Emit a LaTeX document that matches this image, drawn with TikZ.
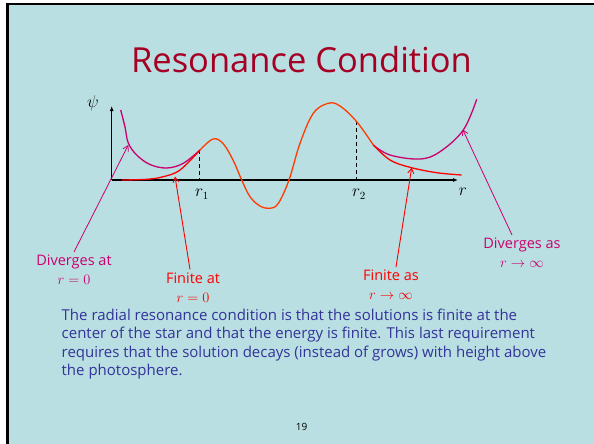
\documentclass[tikz,border=0pt]{standalone}
\usepackage{fontspec}
\setmainfont{Open Sans}
\usetikzlibrary{arrows.meta}
\definecolor{slidebg}{RGB}{185,223,226}
\definecolor{titlered}{RGB}{165,0,35}
\definecolor{divmag}{RGB}{204,0,110}
\definecolor{wavered}{RGB}{255,60,0}
\definecolor{textblue}{RGB}{51,51,153}
\tikzset{
  wave/.style={wavered, line width=1.3pt},
  divcurve/.style={divmag, line width=1.3pt},
  fincurve/.style={red, line width=1.3pt},
  axis/.style={line width=1.4pt, -{Latex[length=5pt,width=4pt]}},
  turnpt/.style={dashed, dash pattern=on 4pt off 3pt, line width=0.9pt},
  divnote/.style={divmag, font=\fontsize{14.5}{19}\selectfont, align=center, inner sep=3pt},
  finnote/.style={red, font=\fontsize{14.5}{19}\selectfont, align=center, inner sep=3pt},
  divptr/.style={divmag, line width=0.8pt, -{Straight Barb[length=5pt,width=6pt]}},
  finptr/.style={red, line width=0.9pt, -{Straight Barb[length=5pt,width=6pt]}},
  lbl/.style={font=\fontsize{16}{16}\selectfont, inner sep=0pt}
}

\begin{document}
\begin{tikzpicture}[x=1pt, y=-1pt]
  % Slide frame
  \useasboundingbox (0,0) rectangle (594,444);
  \fill[white] (0,0) rectangle (594,444);
  \fill[slidebg] (6,3) rectangle (594,444);
  \draw[line width=2.6pt] (7.5,444) -- (7.5,4) -- (594,4);

  % Title
  \node[titlered, font=\fontsize{34.5}{40}\selectfont, anchor=base] (title) at (301.5,72) {Resonance Condition};

  % Axes
  \coordinate (O) at (111.7,180);
  \coordinate (ytop) at (111.7,106);
  \coordinate (xend) at (458,180);
  \draw[axis] (O) -- (ytop);
  \draw[axis] (O) -- (xend);
  \node[lbl] (psi) at (93,103) {$\psi$};
  \node[lbl] (rlab) at (463,192) {$r$};
  \node[lbl] (rone) at (202,194) {$r_1$};
  \node[lbl] (rtwo) at (359,194) {$r_2$};

  % Turning points
  \coordinate (r1top) at (199,150);
  \coordinate (r1foot) at (199,180);
  \coordinate (r2top) at (356.7,121);
  \coordinate (r2foot) at (356.7,180);
  \draw[turnpt] (r1top) -- (r1foot);
  \draw[turnpt] (r2top) -- (r2foot);

  % Solutions near r = 0
  \draw[divcurve] plot[smooth, tension=0.6] coordinates {(120.7,110) (125,127) (128.3,143) (136.7,155) (150,164.5) (166.7,168) (183.3,163.3) (200,150)};
  \draw[fincurve] plot[smooth, tension=0.6] coordinates {(121.7,180) (146.7,179.3) (163.3,176.7) (180,170) (200,150)};

  % Oscillating part
  \draw[wave] plot[smooth, tension=0.6] coordinates {(200,150) (213,139) (223,143.5) (233,160) (241.7,180) (250,196.7) (260,206) (270,208.3) (278.3,203.3) (289,180) (300,143.3) (313.3,113.3) (328.3,103.3) (340,106) (356.7,121.7) (373.3,145)};

  % Solutions for large r
  \draw[divcurve] plot[smooth, tension=0.6] coordinates {(373.3,145) (390,155) (420,159) (440,151.7) (463.3,130) (476.7,99.3)};
  \draw[fincurve] plot[smooth, tension=0.6] coordinates {(373.3,145) (390,160) (410,167.3) (436.7,172.7) (461.7,175)};

  % Notes
  \coordinate (dz) at (128.3,145);
  \coordinate (fz) at (175,176.5);
  \coordinate (fi) at (411.7,167.5);
  \coordinate (di) at (462.7,129.5);
  \node[divnote] (divzero) at (74,270) {Diverges at\\{\fontsize{13.5}{19}\selectfont$r=0$}};
  \node[finnote] (finzero) at (193,287.5) {Finite at\\{\fontsize{13.5}{19}\selectfont$r=0$}};
  \node[finnote] (fininf) at (391,285) {Finite as\\{\fontsize{13.5}{19}\selectfont$r\to\infty$}};
  \node[divnote] (divinf) at (522,253) {Diverges as\\{\fontsize{13.5}{19}\selectfont$r\to\infty$}};
  \draw[divptr] (divzero.north) -- (dz);
  \draw[finptr] ([xshift=-3pt]finzero.north) -- (fz);
  \draw[finptr] ([xshift=5pt]fininf.north) -- (fi);
  \draw[divptr] ([xshift=-10pt]divinf.north) -- (di);

  % Body text
  \node[textblue, font=\fontsize{15}{18.3}\selectfont, align=left, anchor=north west, inner sep=0pt] (para) at (61.5,309)
    {The radial resonance condition is that the solutions is finite at the\\
     center of the star and that the energy is finite. This last requirement\\
     requires that the solution decays (instead of grows) with height above\\
     the photosphere.};

  % Page number
  \node[font=\fontsize{10}{12}\selectfont] (pagenum) at (301.7,426.5) {19};
\end{tikzpicture}
\end{document}
